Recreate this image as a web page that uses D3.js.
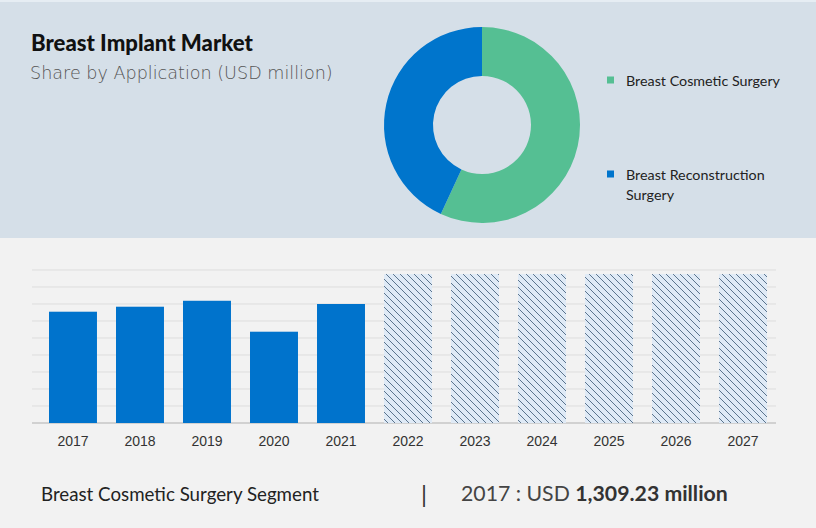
<!DOCTYPE html>
<html><head><meta charset="utf-8">
<script src="https://cdn.jsdelivr.net/npm/d3@7"></script>
<style>html,body{margin:0;padding:0;background:#f2f2f2;}svg{display:block;}</style>
</head><body>
<svg id="chart" width="816" height="528"></svg>
<script>
// ---- data ----
const shareLabels = ["Breast Cosmetic Surgery", "Breast Reconstruction Surgery"];
const shareValues = [56.9, 43.1];
const shareColors = ["#55bf93", "#0075cc"];
const years = ["2017","2018","2019","2020","2021","2022","2023","2024","2025","2026","2027"];
const barValues = [1309.23, 1368, 1438, 1074, 1400, 1752, 1752, 1752, 1752, 1752, 1752];
const forecastFlags = [false,false,false,false,false,true,true,true,true,true,true];
const gridTicks = [0,200,400,600,800,1000,1200,1400,1600,1800];

const svg = d3.select("#chart");
const defs = svg.append("defs");
const pat = defs.append("pattern").attr("id","hatch").attr("patternUnits","userSpaceOnUse")
  .attr("width",7).attr("height",7);
pat.append("rect").attr("width",7).attr("height",7).attr("fill","#dfeaf6");
pat.append("path").attr("d","M-1,-1 L8,8 M-1,6 L1,8 M6,-1 L8,1")
  .attr("stroke","#3a5572").attr("stroke-width",0.8);

// fit font size of a text element to a target width
function fit(sel, w){
  sel.attr("font-size",10);
  const len = sel.node().getComputedTextLength();
  sel.attr("font-size", 10*w/len);
  return sel;
}

// backgrounds
svg.append("rect").attr("x",0).attr("y",0).attr("width",816).attr("height",528).attr("fill","#f2f2f2");
svg.append("rect").attr("x",0).attr("y",0).attr("width",816).attr("height",238).attr("fill","#d5dfe8");
svg.append("rect").attr("x",0).attr("y",0).attr("width",816).attr("height",2).attr("fill","#e6edf3");

// title
fit(svg.append("text").attr("x",31).attr("y",50.5).text("Breast Implant Market")
  .attr("font-family","Lato, 'Open Sans', sans-serif").attr("font-weight",900)
  .attr("fill","#111"), 222);
fit(svg.append("text").attr("x",30).attr("y",79).text("Share by Application (USD million)")
  .attr("font-family","'DejaVu Sans', sans-serif").attr("font-weight",300)
  .attr("fill","#555"), 303);

// donut
const pie = d3.pie().sort(null).value(d => d);
const arc = d3.arc().innerRadius(49).outerRadius(98);
const g = svg.append("g").attr("transform","translate(482,125)");
g.selectAll("path").data(pie(shareValues)).join("path")
  .attr("d",arc).attr("fill",(d,i)=>shareColors[i]);

// legend
const legY = [80, 174];
shareLabels.forEach((lab,i)=>{
  svg.append("rect").attr("x",607).attr("y",legY[i]-3.5).attr("width",7).attr("height",7).attr("fill",shareColors[i]);
});
const legFont = "Lato, 'Open Sans', sans-serif";
const l1 = fit(svg.append("text").attr("x",626).attr("y",85.5).text("Breast Cosmetic Surgery")
  .attr("font-family",legFont).attr("fill","#222"), 154);
const fs = l1.attr("font-size");
svg.append("text").attr("x",626).attr("y",180).text("Breast Reconstruction")
  .attr("font-family",legFont).attr("font-size",fs).attr("fill","#222");
svg.append("text").attr("x",626).attr("y",200).text("Surgery")
  .attr("font-family",legFont).attr("font-size",fs).attr("fill","#222");

// bars
const x = d3.scaleBand().domain(years).range([36,780]).paddingInner(0.284).paddingOuter(0.194);
const y = d3.scaleLinear().domain([0,1800]).range([423,270]);
svg.append("g").selectAll("line").data(gridTicks).join("line")
  .attr("x1",32).attr("x2",776).attr("y1",d=>y(d)).attr("y2",d=>y(d))
  .attr("stroke",(d)=> d===0 ? "#b0b0b0" : "#dddddd").attr("stroke-width",1);
svg.append("g").selectAll("rect").data(years).join("rect")
  .attr("x",d=>x(d)).attr("width",x.bandwidth())
  .attr("y",(d,i)=>y(barValues[i])).attr("height",(d,i)=>y(0)-y(barValues[i]))
  .attr("fill",(d,i)=> forecastFlags[i] ? "url(#hatch)" : "#0073cc");
const xAxis = d3.axisBottom(x).tickSize(0).tickPadding(13);
const ax = svg.append("g").attr("transform","translate(0,423)").call(xAxis);
ax.select(".domain").remove();
ax.selectAll("text").attr("font-family","Arial, 'Liberation Sans', sans-serif").attr("font-size",14).attr("fill","#333");

// footer
fit(svg.append("text").attr("x",41).attr("y",501).text("Breast Cosmetic Surgery Segment")
  .attr("font-family",legFont).attr("fill","#222"), 278);
svg.append("text").attr("x",421).attr("y",503).text("|")
  .attr("font-family",legFont).attr("font-size",24).attr("fill","#333");
const ft = svg.append("text").attr("x",461).attr("y",501)
  .attr("font-family",legFont).attr("fill","#444");
ft.append("tspan").text("2017 : USD ");
ft.append("tspan").attr("font-weight",700).attr("fill","#333").text("1,309.23 million");
fit(ft, 267);
</script>
</body></html>
